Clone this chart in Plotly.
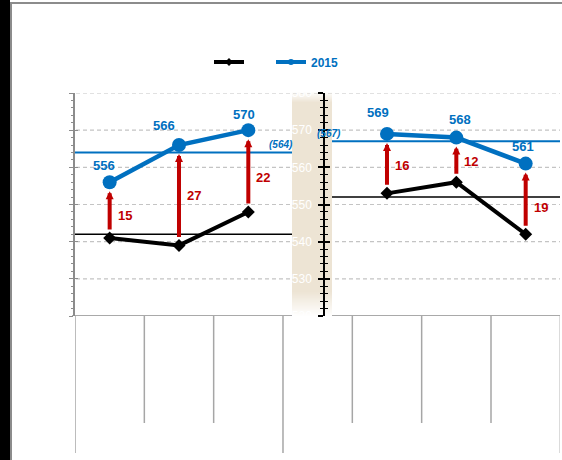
import plotly.graph_objects as go

# Scores by group, two panels of three categories each
categories = ["A", "B", "C"]
left_base = [541, 539, 548]
left_2015 = [556, 566, 570]
right_base = [553, 556, 542]
right_2015 = [569, 568, 561]
left_base_ref = 542
left_2015_ref = 564
right_base_ref = 552
right_2015_ref = 567
y_ticks = [520, 530, 540, 550, 560, 570, 580]

W, H = 562, 460
BLUE = "#0070C0"
RED = "#C00000"
BEIGE = "rgb(237,228,212)"
FONT = "Liberation Sans, Arial, sans-serif"


def px(x):
    return x / W


def py(y):
    return 1 - y / H


x_idx = [0, 1, 2]
ydom = [py(316), py(93)]

fig = go.Figure()

panels = [
    ("x", "y", left_base, left_2015),
    ("x2", "y2", right_base, right_2015),
]
for xa, ya, base, cur in panels:
    fig.add_trace(go.Scatter(
        x=x_idx, y=base, xaxis=xa, yaxis=ya, mode="lines+markers",
        line=dict(color="black", width=4),
        marker=dict(symbol="diamond", size=10, color="black"),
        showlegend=False, hoverinfo="skip"))
    fig.add_trace(go.Scatter(
        x=x_idx, y=cur, xaxis=xa, yaxis=ya, mode="lines+markers",
        line=dict(color=BLUE, width=4.5),
        marker=dict(symbol="circle", size=14, color=BLUE),
        showlegend=False, hoverinfo="skip"))

# legend-only entries
fig.add_trace(go.Scatter(
    x=[None], y=[None], mode="lines+markers", name="",
    line=dict(color="black", width=4),
    marker=dict(symbol="diamond", size=6, color="black"), legend="legend"))
fig.add_trace(go.Scatter(
    x=[None], y=[None], mode="lines+markers", name="2015",
    line=dict(color=BLUE, width=4),
    marker=dict(symbol="circle", size=6, color=BLUE), legend="legend2"))

# tick-crossing overlays for both value axes
fig.add_trace(go.Scatter(x=[None], y=[None], xaxis="x2", yaxis="y3",
                         showlegend=False, hoverinfo="skip"))
fig.add_trace(go.Scatter(x=[None], y=[None], xaxis="x", yaxis="y4",
                         showlegend=False, hoverinfo="skip"))

shapes = []

# frame
shapes.append(dict(type="rect", xref="paper", yref="paper",
                   x0=0, x1=px(10), y0=0, y1=1,
                   fillcolor="black", line=dict(width=0), layer="below"))
shapes.append(dict(type="line", xref="paper", yref="paper",
                   x0=px(11), x1=px(11), y0=0, y1=py(2),
                   line=dict(color="#8c8c8c", width=2), layer="below"))
shapes.append(dict(type="line", xref="paper", yref="paper",
                   x0=px(10), x1=1, y0=py(3), y1=py(3),
                   line=dict(color="#8c8c8c", width=2), layer="below"))

# dashed gridlines across both panels
for v in y_ticks[1:]:
    shapes.append(dict(type="line", xref="paper", yref="y",
                       x0=px(76), x1=px(560), y0=v, y1=v,
                       line=dict(color="#c4c4c4", width=1.2, dash="4px,3px"),
                       layer="below"))

# beige band between the panels, fading at both ends
bx0, bx1 = px(292), px(332)
top, bot = 92, 316
shapes.append(dict(type="rect", xref="paper", yref="paper",
                   x0=bx0, x1=bx1, y0=py(bot - 24), y1=py(top + 10),
                   fillcolor=BEIGE, line=dict(width=0), layer="below"))
n = 10
for i in range(n):
    a = (i + 1) / (n + 1)
    shapes.append(dict(type="rect", xref="paper", yref="paper",
                       x0=bx0, x1=bx1, y0=py(top + i + 1), y1=py(top + i),
                       fillcolor=BEIGE, opacity=a, line=dict(width=0),
                       layer="below"))
m = 24
for i in range(m):
    a = 1 - (i + 1) / (m + 1)
    yy = bot - 24 + i
    shapes.append(dict(type="rect", xref="paper", yref="paper",
                       x0=bx0, x1=bx1, y0=py(yy + 1), y1=py(yy),
                       fillcolor=BEIGE, opacity=a, line=dict(width=0),
                       layer="below"))

# reference lines
refs = [
    (75, 292, left_base_ref, "black", 1.6),
    (75, 292, left_2015_ref, BLUE, 2),
    (332, 560, right_base_ref, "black", 1.6),
    (332, 560, right_2015_ref, BLUE, 2),
]
for x0, x1, v, c, w in refs:
    shapes.append(dict(type="line", xref="paper", yref="y",
                       x0=px(x0), x1=px(x1), y0=v, y1=v,
                       line=dict(color=c, width=w), layer="below"))

# baseline of each panel
shapes.append(dict(type="line", xref="paper", yref="y",
                   x0=px(72), x1=px(292), y0=520, y1=520,
                   line=dict(color="#8c8c8c", width=1.5), layer="below"))
shapes.append(dict(type="line", xref="paper", yref="y",
                   x0=px(332), x1=px(560), y0=520, y1=520,
                   line=dict(color="#8c8c8c", width=1.5), layer="below"))

# category dividers below the plot
for xr in ("x", "x2"):
    for e in [-0.5, 0.5, 1.5, 2.5]:
        long_line = (xr == "x" and e in (-0.5, 2.5)) or (xr == "x2" and e == 2.5)
        shapes.append(dict(type="line", xref=xr, yref="paper",
                           x0=e, x1=e, y0=py(453 if long_line else 423), y1=py(316),
                           line=dict(color="#a6a6a6", width=1.5), layer="below"))

annotations = []
label_dx = {"x": [-6, -15, -4], "x2": [-9, 4, -3]}
label_dy = {"x": [17, 20, 16], "x2": [21, 18, 17]}
diff_dy = {"x": [-5, 0, -6], "x2": [-2, -2, -9]}
for xa, ya, base, cur in panels:
    for i, (b, c) in enumerate(zip(base, cur)):
        # improvement arrow
        annotations.append(dict(
            x=i, y=c, ax=i, ay=b, xref=xa, yref=ya, axref=xa, ayref=ya,
            text="", showarrow=True, arrowhead=2, arrowsize=0.4,
            arrowwidth=4, arrowcolor=RED, standoff=9, startstandoff=7))
        # difference label
        annotations.append(dict(
            x=i, y=(b + c) / 2, xref=xa, yref=ya, text="<b>%d</b>" % (c - b),
            showarrow=False, xanchor="left", xshift=6, yshift=diff_dy[xa][i],
            font=dict(color=RED, size=13, family=FONT)))
        # value label
        annotations.append(dict(
            x=i, y=c, xref=xa, yref=ya, text="<b>%d</b>" % c,
            showarrow=False, xanchor="center", yanchor="middle",
            xshift=label_dx[xa][i], yshift=label_dy[xa][i],
            font=dict(color=BLUE, size=13, family=FONT)))

annotations.append(dict(
    x=px(294), y=left_2015_ref, xref="paper", yref="y",
    text="<b><i>(%d)</i></b>" % left_2015_ref, showarrow=False,
    xanchor="right", yanchor="bottom", yshift=1, borderpad=0,
    font=dict(color=BLUE, size=10, family=FONT)))
annotations.append(dict(
    x=px(316), y=right_2015_ref, xref="paper", yref="y2",
    text="<b><i>(%d)</i></b>" % right_2015_ref, showarrow=False,
    xanchor="left", yanchor="bottom", yshift=1, borderpad=0,
    font=dict(color=BLUE, size=10, family=FONT)))

yaxis_common = dict(range=[520, 580], domain=ydom, tickmode="array",
                    tickvals=y_ticks, showgrid=False, zeroline=False,
                    fixedrange=True, automargin=False)

fig.update_layout(
    width=W, height=H, autosize=False,
    margin=dict(l=0, r=0, t=0, b=0, pad=0, autoexpand=False),
    paper_bgcolor="white", plot_bgcolor="rgba(0,0,0,0)",
    font=dict(family=FONT),
    shapes=shapes, annotations=annotations,
    xaxis=dict(domain=[px(75), px(292)], range=[-0.5, 2.63], anchor="y",
               visible=False, fixedrange=True, automargin=False),
    xaxis2=dict(domain=[px(325), px(560)], range=[-0.894, 2.495], anchor="y2",
                visible=False, fixedrange=True, automargin=False),
    yaxis=dict(**yaxis_common, anchor="x", showline=True, linecolor="#8c8c8c",
               linewidth=1.5, ticks="outside", ticklen=4, tickcolor="#8c8c8c",
               tickwidth=1.2, showticklabels=False,
               minor=dict(tickmode="linear", dtick=2, ticks="outside", ticklen=2,
                          tickcolor="#8c8c8c", tickwidth=1)),
    yaxis4=dict(**yaxis_common, anchor="x", overlaying="y", side="left",
                showline=False, ticks="inside", ticklen=3, tickcolor="#8c8c8c",
                tickwidth=1.2, showticklabels=False),
    yaxis2=dict(**yaxis_common, anchor="x2", showline=True, linecolor="black",
                linewidth=1.5, ticks="outside", ticklen=5, tickcolor="black",
                tickwidth=1.5, showticklabels=True, ticklabelstandoff=4,
                tickfont=dict(color="white", size=12, family=FONT),
                minor=dict(tickmode="linear", dtick=2, ticks="outside", ticklen=3,
                           tickcolor="black", tickwidth=1)),
    yaxis3=dict(**yaxis_common, anchor="x2", overlaying="y2", side="left",
                showline=False, ticks="inside", ticklen=5, tickcolor="black",
                tickwidth=1.5, showticklabels=False,
                minor=dict(tickmode="linear", dtick=2, ticks="inside", ticklen=3,
                           tickcolor="black", tickwidth=1)),
    legend=dict(orientation="h", x=px(209), y=py(62), xanchor="left",
                yanchor="middle", bgcolor="rgba(0,0,0,0)",
                font=dict(color=BLUE, size=11, family=FONT)),
    legend2=dict(orientation="h", x=px(271), y=py(62), xanchor="left",
                 yanchor="middle", bgcolor="rgba(0,0,0,0)",
                 font=dict(color=BLUE, size=12, family=FONT, weight="bold")),
)

fig.write_html("out.html")
